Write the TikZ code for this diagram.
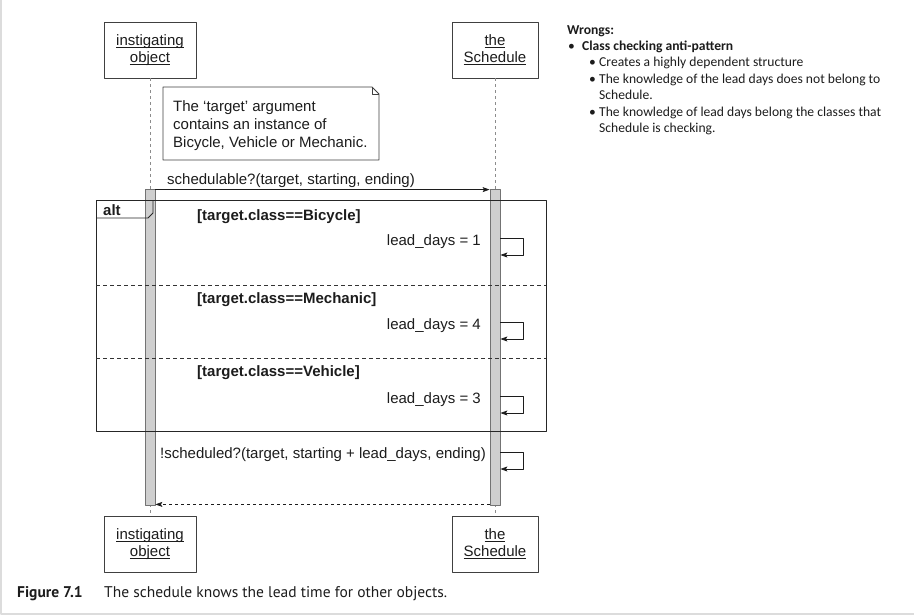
\documentclass[tikz,border=0pt]{standalone}
\usepackage{fontspec}
\setmainfont{Liberation Sans}
\newfontfamily\notefont{Carlito}
\newfontfamily\capfont{PT Sans}
\usepackage{tikz}
\usetikzlibrary{arrows, arrows.meta, positioning}
\definecolor{ink}{HTML}{1C1C1C}
\definecolor{framegray}{HTML}{DCDCDC}
\newcommand{\ul}[1]{\underline{\raisebox{0pt}[\height][0pt]{#1}}}

\tikzset{
    head/.style={draw=black!75, line width=0.9pt, fill=white, minimum height=56pt, align=center, inner sep=0pt, font=\fontsize{15}{17}\selectfont},
    actbar/.style={draw=black!55, fill=black!19, line width=0.8pt, minimum width=10pt, minimum height=316pt, inner sep=0pt},
    lifeline/.style={black!45, line width=0.8pt, dash pattern=on 3pt off 3pt},
    msg/.style={anchor=base west, inner sep=0pt},
    guard/.style={anchor=base west, inner sep=0pt, font=\fontsize{15}{18}\selectfont\bfseries},
    wrongs/.style={anchor=base west, inner sep=0pt, font=\notefont\fontsize{13.6}{16}\selectfont}
}

\begin{document}
\begin{tikzpicture}[x=1pt, y=-1pt, line join = round, >={Stealth[length=7pt, width=5pt, inset=1.5pt]}, color=ink, font=\fontsize{15}{18}\selectfont]
    \useasboundingbox (0,0) rectangle (914,616);
    \draw[framegray, line width=2pt] (1,0) -- (1,614) -- (914,614);

    \node[head, minimum width=92pt] (obj) at (150,50) {\ul{instigating}\\\ul{object}};
    \node[head, minimum width=86pt] (sched) at (495,50) {\ul{the}\\\ul{Schedule}};
    \node[head, minimum width=92pt] (objend) at (150,544) {\ul{instigating}\\\ul{object}};
    \node[head, minimum width=86pt] (schedend) at (495,544) {\ul{the}\\\ul{Schedule}};

    \draw[lifeline] (obj) -- (objend);
    \draw[lifeline] (sched) -- (schedend);

    % note
    \draw[black!75, line width=0.8pt, fill=white] (163,87) -- (372,87) -- (379,94) -- (379,160) -- (163,160) -- cycle;
    \draw[black!75, line width=0.8pt] (372,87) -- (372,94) -- (379,94);
    \node[anchor=north west, inner sep=0pt, align=left] (note) at (173,100) {The `target' argument\\contains an instance of\\Bicycle, Vehicle or Mechanic.};

    \node[actbar] (barL) at (150,347) {};
    \node[actbar] (barR) at (495,347) {};

    \node[msg] (call) at (167,184) {schedulable?(target, starting, ending)};
    \draw[->, line width=0.8pt] ([yshift=-1pt]barL.north east) -- ([yshift=-1pt]barR.north west);

    % alt fragment
    \draw[black!85, line width=0.9pt] (96,200) rectangle (546,431);
    \draw[black!85, line width=0.9pt] (96,218) -- (148,218) -- (153,213) -- (153,200);
    \node[guard] (alt) at (103,215) {alt};
    \foreach \y in {285,358}
        \draw[black!80, line width=0.8pt, dash pattern=on 4pt off 3pt] (96,\y) -- (546,\y);

    \node[guard] (g1) at (197,220) {[target.class==Bicycle]};
    \node[guard] (g2) at (197,303) {[target.class==Mechanic]};
    \node[guard] (g3) at (197,376) {[target.class==Vehicle]};

    \node[msg, anchor=base east] (d1) at (481,245) {lead\_days = 1};
    \node[msg, anchor=base east] (d2) at (481,329) {lead\_days = 4};
    \node[msg, anchor=base east] (d3) at (481,403) {lead\_days = 3};
    \node[msg] (chk) at (160,458) {!scheduled?(target, starting + lead\_days, ending)};

    \foreach \y in {238,322,396,452}
        \draw[->, line width=0.8pt] (barR.east |- 0,\y) -- ++(23,0) -- ++(0,17) -- ++(-23,0);

    \draw[->, line width=0.8pt, dash pattern=on 3pt off 3pt] ([yshift=1pt]barR.south west) -- ([yshift=1pt]barL.south east);

    % caption
    \node[anchor=base west, inner sep=0pt, font=\capfont\fontsize{15.5}{18}\selectfont\bfseries] (fig) at (17,597) {Figure 7.1};
    \node[anchor=base west, inner sep=0pt, font=\capfont\fontsize{15.5}{18}\selectfont] (cap) at (104,597) {The schedule knows the lead time for other objects.};

    % notes on the right
    \node[wrongs, font=\notefont\fontsize{13.6}{16}\selectfont\bfseries] (w) at (567,34) {Wrongs:};
    \node[wrongs] at (568,50) {•};
    \node[wrongs, font=\notefont\fontsize{13.6}{16}\selectfont\bfseries] (w0) at (582,50) {Class checking anti-pattern};
    \foreach \y in {66.5,83,116}
        \node[wrongs] at (589,\y) {•};
    \foreach \y/\t in {66.5/Creates a highly dependent structure, 83/The knowledge of the lead days does not belong to, 99/Schedule., 116/The knowledge of lead days belong the classes that, 132/Schedule is checking.}
        \node[wrongs] at (599,\y) {\t};
\end{tikzpicture}
\end{document}
